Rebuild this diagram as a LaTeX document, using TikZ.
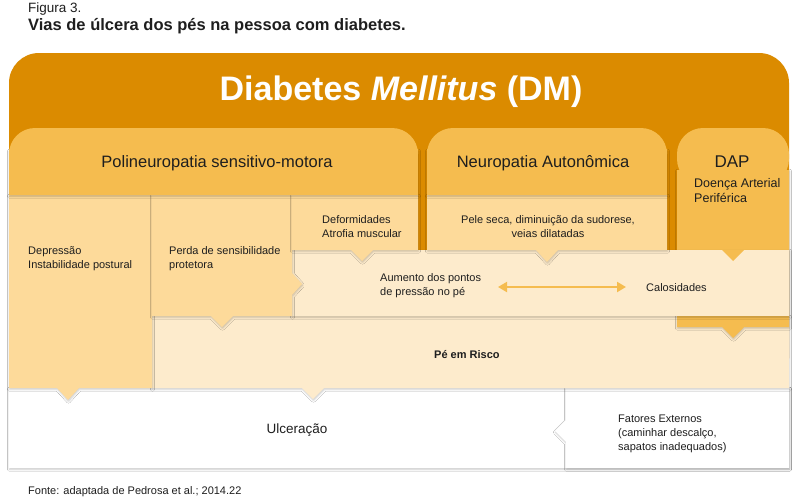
\documentclass[tikz,border=0pt]{standalone}
\usepackage{fontspec}
\setmainfont{Liberation Sans}
\usetikzlibrary{arrows.meta,shadows.blur}
\definecolor{dmorange}{HTML}{DB8B00}
\definecolor{tabc}{HTML}{F5BC4F}
\definecolor{palec}{HTML}{FDDA9A}
\definecolor{beigec}{HTML}{FDEBCC}
\definecolor{txtc}{HTML}{1E1E1E}
\begin{document}
\begin{tikzpicture}[x=1pt,y=-1pt,
  shd/.style={blur shadow={shadow xshift=0.5pt,shadow yshift=-1.2pt,shadow blur radius=2pt,shadow opacity=22}},
  lab/.style={text=txtc,inner sep=0pt},
  small/.style={lab,font=\fontsize{11}{13.5}\selectfont,align=left},
  head/.style={lab,font=\fontsize{16.5}{20}\selectfont},
  ]
\useasboundingbox[fill=white] (0,0) rectangle (799,498);
% orange background
\fill[dmorange,rounded corners=30pt] (9,53) rectangle (789,388);
% white bottom boxes
\fill[white,shd] (9,388) rectangle (789,468);
\fill[white,shd] (566,388) -- (789,388) -- (789,468) -- (566,468) -- (566,442) -- (555,431) -- (566,420) -- cycle;
% Pe em risco band
\fill[beigec,shd] (152,316) -- (789,316) -- (789,388) -- (324,388) -- (313,399) -- (302,388) -- (152,388) -- cycle;
% DAP column
\fill[tabc,shd] (677,170) -- (789,170) -- (789,327) -- (744,327) -- (733,338) -- (722,327) -- (677,327) -- cycle;
% Aumento band
\fill[beigec,shd] (292,250) rectangle (789,316);
\fill[tabc] (722,250) -- (744,250) -- (733,261) -- cycle;
% pale columns
\fill[palec,shd] (9,195) -- (152,195) -- (152,388) -- (79,388) -- (68,400) -- (57,388) -- (9,388) -- cycle;
\fill[palec,shd] (152,195) -- (292,195) -- (292,273) -- (302,284) -- (292,295) -- (292,316) -- (233,316) -- (222,327) -- (211,316) -- (152,316) -- cycle;
\fill[palec,shd] (292,195) -- (418,195) -- (418,250) -- (373,250) -- (362,261) -- (351,250) -- (292,250) -- cycle;
\fill[palec,shd] (427,195) -- (667,195) -- (667,250) -- (558,250) -- (547,262) -- (536,250) -- (427,250) -- cycle;
% tabs
\fill[tabc,shd] (9,150) rectangle (418,195);
\fill[tabc,rounded corners=26pt] (9,128) rectangle (418,175);
\fill[tabc,shd] (427,150) rectangle (667,195);
\fill[tabc,rounded corners=26pt] (427,128) rectangle (667,175);
\fill[tabc,rounded corners=26pt] (677,128) rectangle (789,185);
% texts
\node[lab,anchor=base west,font=\fontsize{13.5}{16}\selectfont] (fig) at (28,12) {Figura 3.};
\node[lab,anchor=base west,font=\bfseries\fontsize{16.5}{20}\selectfont] (sub) at (28,30) {Vias de úlcera dos pés na pessoa com diabetes.};
\node[inner sep=0pt,anchor=base,text=white,font=\bfseries\fontsize{34}{40}\selectfont] (dm) at (401,100) {Diabetes \textit{Mellitus} (DM)};
\node[head,anchor=base] (poli) at (217,167) {Polineuropatia sensitivo-motora};
\node[head,anchor=base] (neuro) at (543,167) {Neuropatia Autonômica};
\node[head,anchor=base,font=\fontsize{17}{20}\selectfont] (dap) at (732,167) {DAP};
\node[lab,anchor=base west,align=left,font=\fontsize{12.5}{15}\selectfont] (doenca) at (694,202) {Doença Arterial\\Periférica};
\node[small,anchor=base west] (depr) at (28,268) {Depressão\\Instabilidade postural};
\node[small,anchor=base west] (perda) at (169,268) {Perda de sensibilidade\\protetora};
\node[small,anchor=base west] (deform) at (322,237) {Deformidades\\Atrofia muscular};
\node[small,anchor=base,align=center] (pele) at (548,237) {Pele seca, diminuição da sudorese,\\veias dilatadas};
\node[small,anchor=base west] (aum) at (380,295) {Aumento dos pontos\\de pressão no pé};
\node[small,anchor=base west] (calos) at (646,291) {Calosidades};
\node[small,anchor=base west,font=\bfseries\fontsize{11}{13.5}\selectfont] (risco) at (434,358) {Pé em Risco};
\node[lab,anchor=base,font=\fontsize{13.5}{16}\selectfont] (ulc) at (297,433) {Ulceração};
\node[small,anchor=base west,font=\fontsize{11}{14}\selectfont] (fat) at (618,450) {Fatores Externos\\(caminhar descalço,\\sapatos inadequados)};
\node[small,anchor=base west] (fonte) at (28,494) {Fonte: adaptada de Pedrosa et al.; 2014.22};
% double arrow
\coordinate (al) at (498,287);
\coordinate (ar) at (626,287);
\draw[tabc,line width=2pt,{Triangle[length=9pt,width=10pt]}-{Triangle[length=9pt,width=10pt]}] (al) -- (ar);
\end{tikzpicture}
\end{document}
